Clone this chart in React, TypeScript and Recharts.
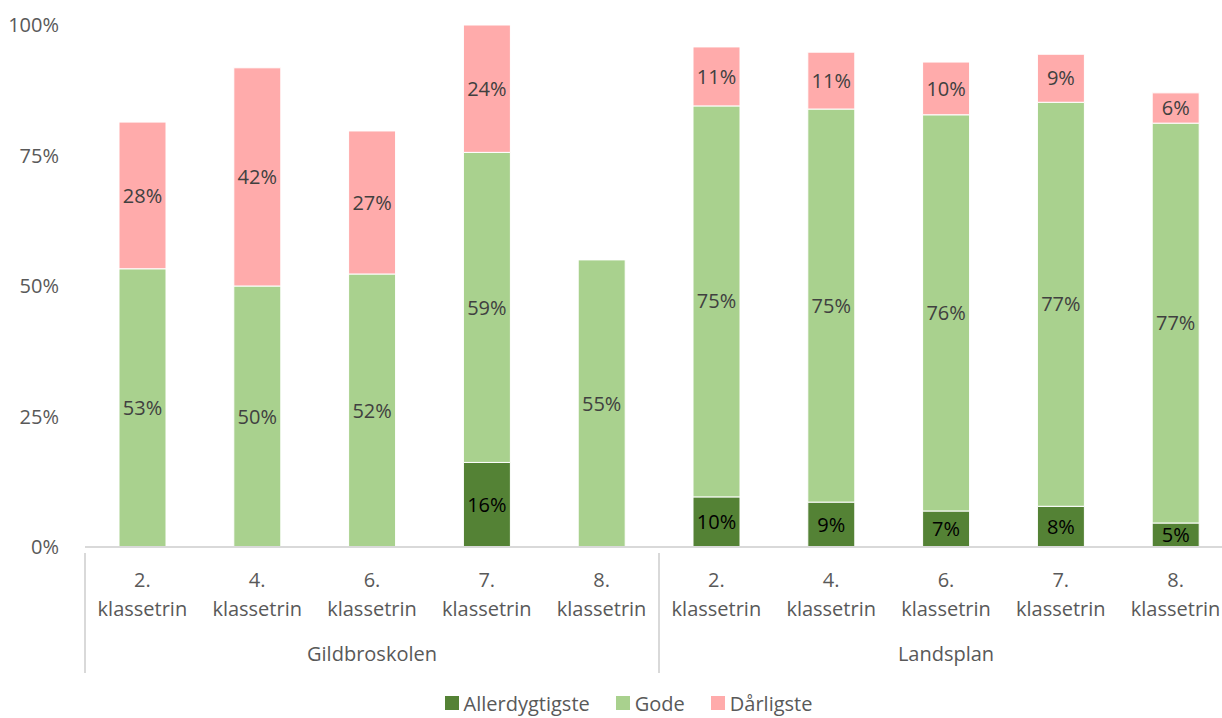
import React from 'react';
import { BarChart, Bar, XAxis, YAxis, Legend, LabelList } from 'recharts';

// categories
const grades = ['2.', '4.', '6.', '7.', '8.', '2.', '4.', '6.', '7.', '8.'];
const groups = ['Gildbroskolen', 'Gildbroskolen', 'Gildbroskolen', 'Gildbroskolen', 'Gildbroskolen', 'Landsplan', 'Landsplan', 'Landsplan', 'Landsplan', 'Landsplan'];
const groupNames = ['Gildbroskolen', 'Landsplan'];

// series (percent)
const allerdygtigste = [0, 0, 0, 16.2, 0, 9.6, 8.6, 6.9, 7.8, 4.6];
const gode = [53.3, 50.0, 52.3, 59.4, 55.0, 74.9, 75.3, 75.9, 77.4, 76.6];
const daarligste = [28.1, 41.8, 27.4, 24.4, 0, 11.3, 10.9, 10.1, 9.2, 5.8];

const yTicks = [0, 25, 50, 75, 100];

const data = grades.map((g, i) => ({
	name: `${g} klassetrin`,
	grade: g,
	group: groups[i],
	Allerdygtigste: allerdygtigste[i],
	Gode: gode[i],
	Dårligste: daarligste[i],
}));

const FONT = '"Open Sans", Lato, sans-serif';
const FS = 20;
const colors = {
	Allerdygtigste: '#548235',
	Gode: '#a9d18e',
	Dårligste: '#ffabab',
};

const fmt = (v: any) => (v ? `${Math.round(v)}%` : '');

// the original plot runs a little past the right edge of the picture
const CHART_W = 1233;
const LEFT = 85;
const band = (CHART_W - LEFT) / grades.length;

const CategoryTick = (props: any) => {
	const { x, y, index } = props;
	const d = data[index];
	const left = x - band / 2;
	const first = index === 0 || groups[index - 1] !== groups[index];
	const groupIdx = groupNames.indexOf(d.group);
	const members = groups.filter((g) => g === d.group).length;
	const mid = groups.indexOf(d.group) + (members - 1) / 2;
	return (
		<g>
			<text x={x} y={y + 32} textAnchor="middle" fontSize={FS} fill="#595959" fontFamily={FONT}>
				{d.grade}
			</text>
			<text x={x} y={y + 61} textAnchor="middle" fontSize={FS} fill="#595959" fontFamily={FONT}>
				klassetrin
			</text>
			{first && <line x1={left} y1={y - 2} x2={left} y2={y + 118} stroke="#d9d9d9" strokeWidth={2} />}
			{Math.abs(index - mid) < 0.01 && (
				<text x={x} y={y + 106} textAnchor="middle" fontSize={FS} fill="#595959" fontFamily={FONT}>
					{groupNames[groupIdx]}
				</text>
			)}
		</g>
	);
};

const LegendContent = () => (
	<div style={{ display: 'flex', justifyContent: 'center', gap: 26, fontFamily: FONT, fontSize: FS, color: '#595959', height: 30, alignItems: 'center', paddingLeft: 24 }}>
		{Object.entries(colors).map(([k, c]) => (
			<div key={k} style={{ display: 'flex', alignItems: 'center' }}>
				<span style={{ display: 'inline-block', width: 14, height: 14, background: c, marginRight: 5 }} />
				{k}
			</div>
		))}
	</div>
);

export default function App() {
	return (
		<div style={{ position: 'absolute', left: 0, top: 0, width: 1222, height: 718, overflow: 'hidden', background: '#fff' }}>
			<BarChart
				width={CHART_W}
				height={718}
				data={data}
				margin={{ top: 25, right: 0, left: 0, bottom: 0 }}
				barCategoryGap={0}
			>
				<XAxis
					dataKey="name"
					interval={0}
					height={141}
					tick={<CategoryTick />}
					tickLine={false}
					axisLine={{ stroke: '#d9d9d9', strokeWidth: 2 }}
				/>
				<YAxis
					width={LEFT}
					domain={[0, 100]}
					ticks={yTicks}
					tickFormatter={(v) => `${v}%`}
					axisLine={false}
					tickLine={false}
					tick={{ fontSize: FS, fill: '#595959', fontFamily: FONT }}
					tickMargin={20}
				/>
				<Legend verticalAlign="bottom" content={<LegendContent />} />
				<Bar dataKey="Allerdygtigste" stackId="a" fill={colors.Allerdygtigste} stroke="#fff" strokeWidth={1} barSize={47} isAnimationActive={false}>
					<LabelList dataKey="Allerdygtigste" position="center" formatter={fmt} fill="#000" fontSize={FS} fontFamily={FONT} />
				</Bar>
				<Bar dataKey="Gode" stackId="a" fill={colors.Gode} stroke="#fff" strokeWidth={1} barSize={47} isAnimationActive={false}>
					<LabelList dataKey="Gode" position="center" formatter={fmt} fill="#404040" fontSize={FS} fontFamily={FONT} />
				</Bar>
				<Bar dataKey="Dårligste" stackId="a" fill={colors.Dårligste} stroke="#fff" strokeWidth={1} barSize={47} isAnimationActive={false}>
					<LabelList dataKey="Dårligste" position="center" formatter={fmt} fill="#404040" fontSize={FS} fontFamily={FONT} />
				</Bar>
			</BarChart>
		</div>
	);
}
